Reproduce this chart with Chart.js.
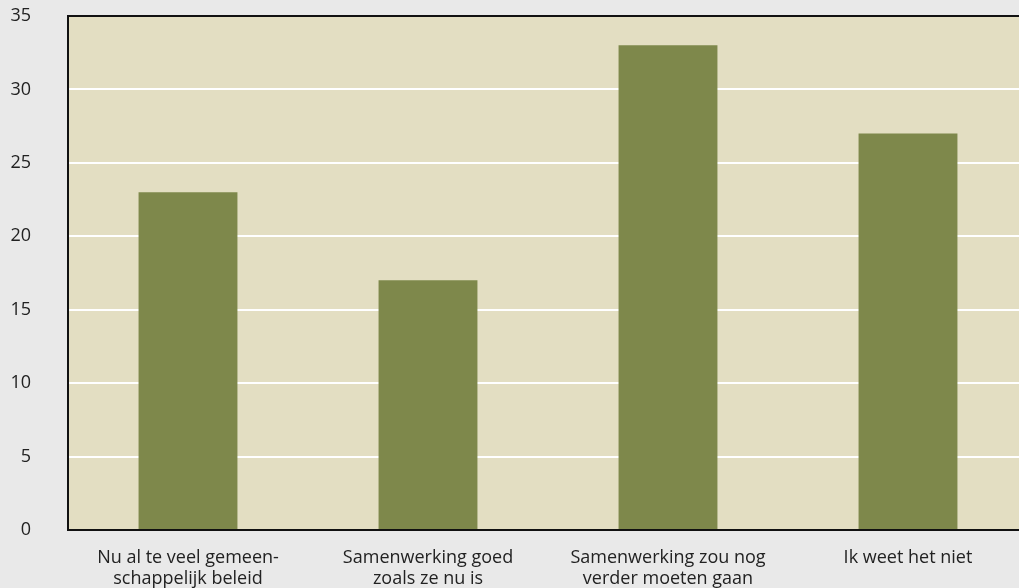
<!DOCTYPE html>
<html>
<head>
<meta charset="utf-8">
<script src="https://cdn.jsdelivr.net/npm/chart.js@4"></script>
<style>
  body { margin: 0; background: #e9e9e9; overflow: hidden; }
  #wrap { width: 1019px; height: 588px; overflow: hidden; }
</style>
</head>
<body>
<div id="wrap"><canvas id="myChart" width="1028" height="588"></canvas></div>
<script>
var labels = [
    ['Nu al te veel gemeen-', 'schappelijk beleid'],
    ['Samenwerking goed', 'zoals ze nu is'],
    ['Samenwerking zou nog', 'verder moeten gaan'],
    ['Ik weet het niet']
]
var values = [23, 17, 33, 27]
var yTicks = [0, 5, 10, 15, 20, 25, 30, 35]

// beige plot area + black frame on left, top, bottom
var plotFrame = {
    id: 'plotFrame',
    beforeDraw: function(chart){
        var ctx = chart.ctx, a = chart.chartArea
        ctx.save()
        ctx.fillStyle = '#e3dec2'
        ctx.fillRect(a.left, a.top, a.right - a.left, a.bottom - a.top)
        ctx.restore()
    },
    afterDraw: function(chart){
        var ctx = chart.ctx, a = chart.chartArea
        ctx.save()
        ctx.strokeStyle = '#111'
        ctx.lineWidth = 2
        ctx.beginPath()
        ctx.moveTo(a.right + 2, a.top)
        ctx.lineTo(a.left, a.top)
        ctx.lineTo(a.left, a.bottom)
        ctx.lineTo(a.right + 2, a.bottom)
        ctx.stroke()
        ctx.restore()
    }
}

Chart.defaults.font.family = '"Open Sans", "Liberation Sans", Arial, sans-serif'
Chart.defaults.color = '#222'

let myChart1 = document.getElementById("myChart").getContext('2d');
let chart1 = new Chart(myChart1, {
    type: 'bar',
    data: {
        labels: labels,
        datasets: [{
            data: values,
            backgroundColor: '#7e884b',
            barPercentage: 0.412,
            categoryPercentage: 1.0
        }]
    },
    options: {
        responsive: false,
        animation: false,
        devicePixelRatio: 1,
        layout: { padding: { top: 16, right: 0, left: 0, bottom: 0 } },
        plugins: {
            legend: { display: false },
            title: { display: false },
            tooltip: { enabled: false }
        },
        scales: {
            x: {
                grid: { display: false, drawTicks: false },
                border: { display: false },
                ticks: { font: { size: 18, lineHeight: 1.17 }, padding: 17, maxRotation: 0 },
                afterFit: function(scale){ scale.height = 58 }
            },
            y: {
                min: 0,
                max: 35,
                afterBuildTicks: function(scale){
                    scale.ticks = yTicks.map(function(v){ return { value: v } })
                },
                grid: { color: '#ffffff', lineWidth: 2, drawTicks: false },
                border: { display: false },
                ticks: { font: { size: 18 }, padding: 37 },
                afterFit: function(scale){
                    scale.width = 68
                    scale.paddingTop = 0
                    scale.paddingBottom = 0
                }
            }
        }
    },
    plugins: [plotFrame]
});
</script>
</body>
</html>
